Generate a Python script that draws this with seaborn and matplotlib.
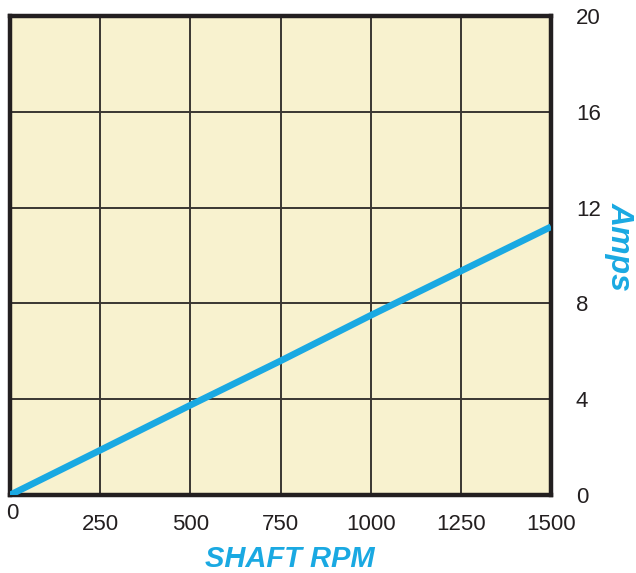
import matplotlib
matplotlib.use("Agg")
import matplotlib.pyplot as plt
import matplotlib.transforms as mtransforms
import seaborn as sns
import pandas as pd

rpm = [0, 250, 500, 750, 1000, 1250, 1500]
amps = [0.0, 1.87, 3.75, 5.6, 7.5, 9.35, 11.2]
x_ticks = [0, 250, 500, 750, 1000, 1250, 1500]
y_ticks = [0, 4, 8, 12, 16, 20]

sns.set_theme(style="white")
plt.rcParams['font.family'] = ['Liberation Sans Narrow', 'Liberation Sans', 'DejaVu Sans']

BLUE = "#1AA9E2"
fig = plt.figure(figsize=(6.36, 5.73), dpi=100)
ax = fig.add_axes([10/636, 1 - 495/573, (551-10)/636, (495-16)/573])
ax.set_facecolor("#F8F2CF")

df = pd.DataFrame({"rpm": rpm, "amps": amps})
sns.lineplot(data=df, x="rpm", y="amps", ax=ax, color=BLUE, linewidth=4.8,
             solid_capstyle="butt", zorder=5)

ax.set_xlim(0, 1500)
ax.set_ylim(0, 20)
ax.set_xticks(x_ticks)
ax.set_xticklabels([str(v) for v in x_ticks], fontsize=16, color="#231F20")
ax.set_yticks(y_ticks)
ax.yaxis.tick_right()
ax.set_yticklabels([str(v) for v in y_ticks], fontsize=16, color="#231F20")
ax.tick_params(axis="both", length=0)
ax.tick_params(axis="x", pad=14)
ax.tick_params(axis="y", pad=18)
# first x label sits higher
first = ax.get_xticklabels()[0]
first.set_transform(first.get_transform() + mtransforms.ScaledTranslation(2/72, 8/72, fig.dpi_scale_trans))

ax.grid(True, color="#3A3632", linewidth=1.4)
ax.set_axisbelow(True)
for s in ax.spines.values():
    s.set_visible(True)
    s.set_color("#231F20")
    s.set_linewidth(3.2)

ax.set_xlabel("SHAFT RPM", fontsize=21, color=BLUE, fontweight="bold", fontstyle="italic")
ax.xaxis.set_label_coords(0.518, -0.105)
ax.yaxis.set_label_position("right")
ax.set_ylabel("Amps", fontsize=23, color=BLUE, fontweight="bold", fontstyle="italic",
              rotation=-90, va="center", ha="center")
ax.yaxis.set_label_coords(1.126, 0.518)

fig.savefig("out.png", dpi=100)
